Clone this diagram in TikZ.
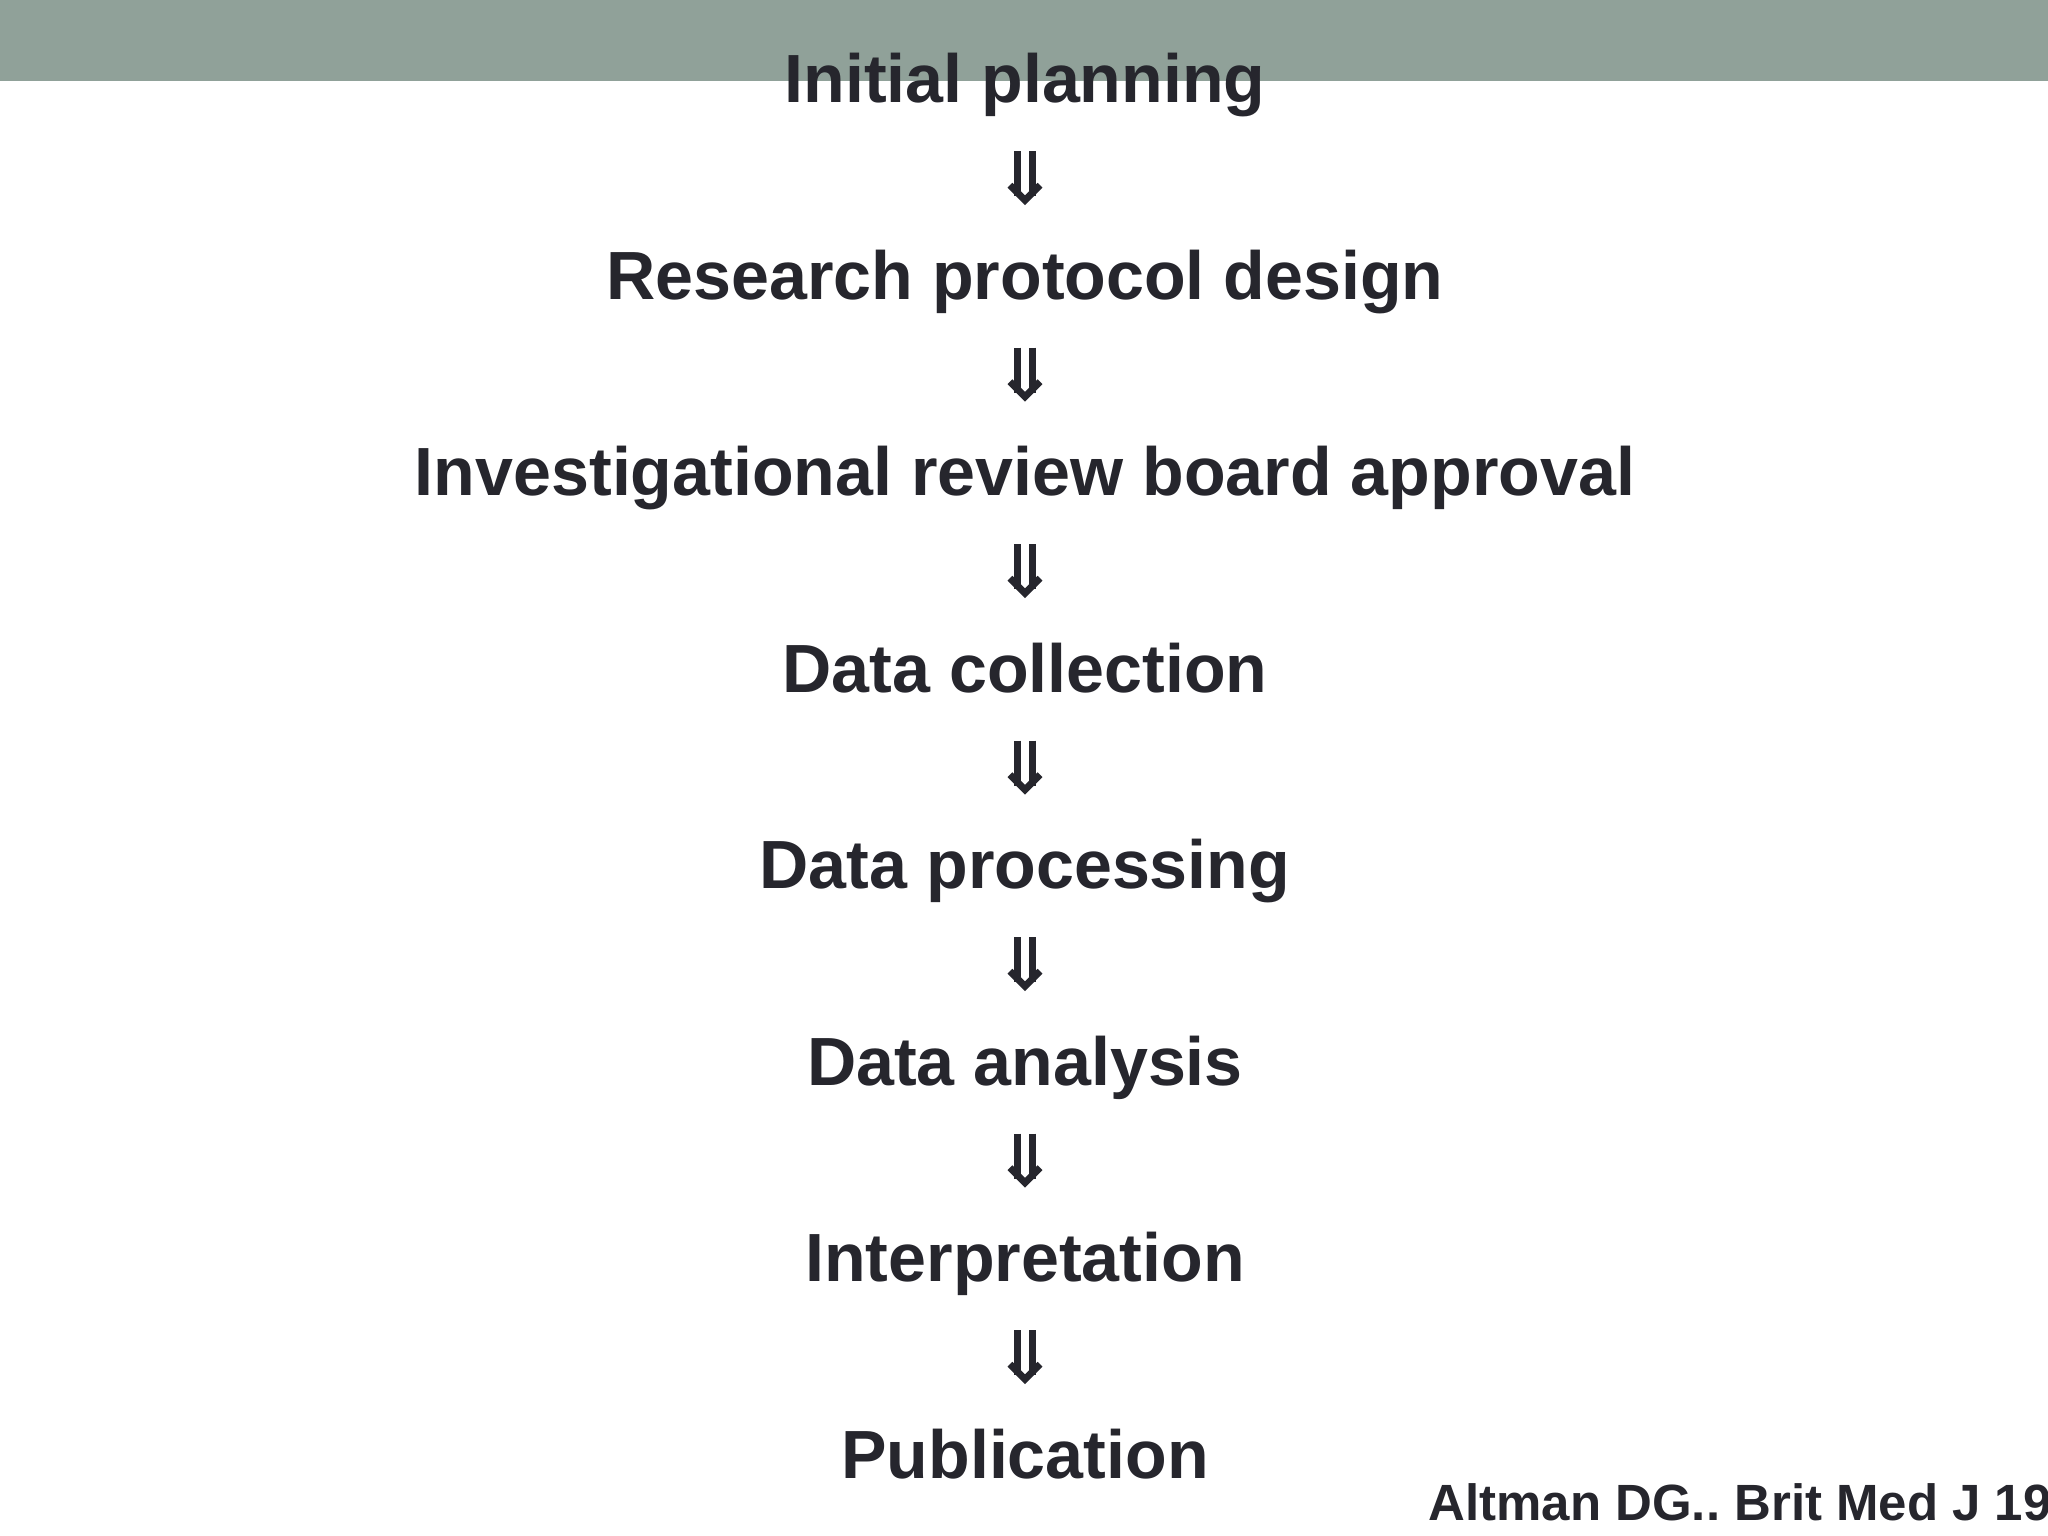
\documentclass[tikz,border=0pt]{standalone}
\usepackage{fontspec}
\setmainfont{Liberation Sans}
\usetikzlibrary{calc}
\frenchspacing
\definecolor{barcol}{RGB}{144,161,153}
\definecolor{ink}{RGB}{38,38,45}
\tikzset{
  stage/.style={anchor=base, inner sep=0pt, text=ink, font=\fontsize{19.4}{23}\selectfont\bfseries},
  cite/.style={anchor=base west, inner sep=0pt, text=ink, font=\fontsize{14.5}{18}\selectfont\bfseries},
  dblarrow/.style={draw=ink, line width=0.68mm},
}
\newcommand{\dnarrow}[2]{%
  \coordinate (m) at ($(#1.base)!0.5!(#2.base)+(0,0.24)$);
  \draw[dblarrow] ($(m)+(-0.075,0.26)$) -- ($(m)+(-0.075,-0.19)$);
  \draw[dblarrow] ($(m)+(0.075,0.26)$) -- ($(m)+(0.075,-0.19)$);
  \draw[dblarrow, line join=miter] ($(m)+(-0.15,-0.08)$) -- ($(m)+(0,-0.23)$) -- ($(m)+(0.15,-0.08)$);
}
\begin{document}
\begin{tikzpicture}
\useasboundingbox (0,0) rectangle (20.48,15.36);
\fill[white] (0,0) rectangle (20.48,15.36);
\fill[barcol] (0,14.55) rectangle (20.48,15.36);
\node[stage] (s1) at (10.25,14.33) {Initial planning};
\node[stage] (s2) at (10.25,12.365) {Research protocol design};
\node[stage] (s3) at (10.25,10.40) {Investigational review board approval};
\node[stage] (s4) at (10.25,8.435) {Data collection};
\node[stage] (s5) at (10.25,6.47) {Data processing};
\node[stage] (s6) at (10.25,4.505) {Data analysis};
\node[stage] (s7) at (10.25,2.54) {Interpretation};
\node[stage] (s8) at (10.25,0.575) {Publication};
\dnarrow{s1}{s2}
\dnarrow{s2}{s3}
\dnarrow{s3}{s4}
\dnarrow{s4}{s5}
\dnarrow{s5}{s6}
\dnarrow{s6}{s7}
\dnarrow{s7}{s8}
\node[cite] (c) at (14.28,0.15) {Altman DG.. Brit Med J 19};
\end{tikzpicture}
\end{document}
